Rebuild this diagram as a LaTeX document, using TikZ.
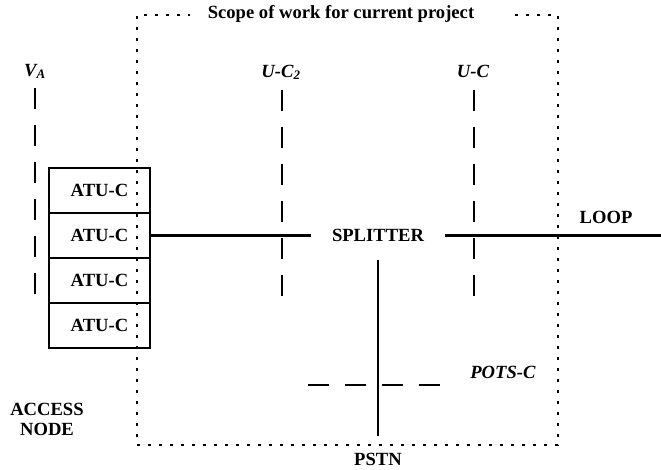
\documentclass[tikz,border=0pt]{standalone}
\usepackage{fontspec}
\setmainfont{Liberation Serif}
\begin{document}
\begin{tikzpicture}[x=1pt, y=-1pt, line width=2.6pt, font=\fontsize{18.6}{20}\selectfont\bfseries]
      \tikzstyle{every node} = [inner sep = 0pt];
      \tikzstyle{atubox} = [draw, minimum width = 101, minimum height = 45];
      \tikzstyle{refline} = [dash pattern = on 21pt off 16pt];
      \tikzstyle{frame} = [line width = 2.8pt, dash pattern = on 2.8pt off 8.2pt];
      \useasboundingbox (0,0) rectangle (661,469);
      \foreach \i in {1,...,4}{
        \node (atu\i) [atubox] at (99.5, {145.5 + 45*\i}) {ATU-C};
      }
      \node (scope) [anchor = base] at (341,18.5) {Scope of work for current project};
      \draw[frame] (515,15) -- (558,15) -- (558,445) -- (137,445) -- (137,15) -- (190,15);
      \node (va) [anchor = base] at (35,76) {\textit{V\textsubscript{A}}};
      \node (uc2) [anchor = base] at (281,77) {\textit{U-C\textsubscript{2}}};
      \node (uc) [anchor = base] at (473,77) {\textit{U-C}};
      \node (splitter) [minimum width = 132, minimum height = 46] at (378,235.5) {SPLITTER};
      \node (loop) at (606,217) {LOOP};
      \node (pots) at (503,372.5) {\textit{POTS-C}};
      \node (access) [align = center] at (47,419) {ACCESS\\NODE};
      \node (pstn) [minimum height = 44] at (378,459) {PSTN};
      \coordinate (loopend) at (661,235.5);
      \coordinate (va1) at (35,88);
      \coordinate (va2) at (35,297);
      \coordinate (uc2a) at (282,90);
      \coordinate (uc2b) at (282,297);
      \coordinate (uca) at (474,90);
      \coordinate (ucb) at (474,297);
      \coordinate (pots1) at (308,385);
      \coordinate (pots2) at (441,385);
      \path[]
      (atu2) edge (splitter)
      (splitter) edge (loopend)
      edge (pstn);
      \draw[refline] (va1) -- (va2);
      \draw[refline] (uc2a) -- (uc2b);
      \draw[refline] (uca) -- (ucb);
      \draw[refline] (pots1) -- (pots2);
    \end{tikzpicture}
\end{document}
